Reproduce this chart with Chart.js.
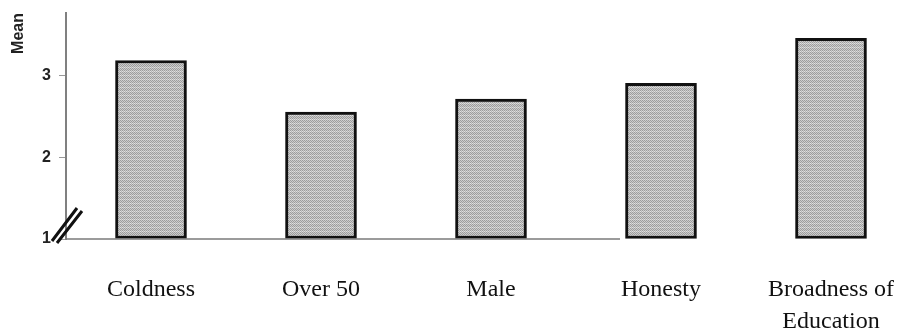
<!DOCTYPE html>
<html>
<head>
<meta charset="utf-8">
<script src="https://cdn.jsdelivr.net/npm/chart.js@4.4.1/dist/chart.umd.min.js"></script>
<style>
  html, body { margin: 0; padding: 0; background: #fff; overflow: hidden; }
  #wrap { width: 916px; height: 331px; }
  #meanChart { width: 916px; height: 331px; display: block; }
</style>
</head>
<body>
<div id="wrap"><canvas id="meanChart" width="916" height="331"></canvas></div>
<script>
// --- datos ---
const categories = ['Coldness', 'Over 50', 'Male', 'Honesty', ['Broadness of', 'Education']];
const means = [3.18, 2.55, 2.71, 2.90, 3.45];
const yTicks = [1, 2, 3];
const yMin = 1;
const yMax = 3.76;

// trama gris punteada como la del original escaneado
function makePattern() {
    const c = document.createElement('canvas');
    c.width = 4; c.height = 4;
    const p = c.getContext('2d');
    for (let y = 0; y < 4; y++) {
        for (let x = 0; x < 4; x++) {
            const dark = (x + y) % 2 === 0;
            let col = dark ? '#9c9c9c' : '#cdcdcd';
            if (y === 3) col = dark ? '#b4b4b4' : '#e0e0e0';
            p.fillStyle = col;
            p.fillRect(x, y, 1, 1);
        }
    }
    return p.createPattern(c, 'repeat');
}

// línea base recortada y marcas de corte del eje
const axisExtras = {
    id: 'axisExtras',
    afterDraw(chart) {
        const ctx = chart.ctx;
        const area = chart.chartArea;
        const x = chart.scales.x;
        ctx.save();
        ctx.strokeStyle = '#7a7a7a';
        ctx.lineWidth = 1.5;
        ctx.beginPath();
        ctx.moveTo(area.left, area.bottom);
        ctx.lineTo(x.getPixelForValue(3) - 41, area.bottom);
        ctx.stroke();

        ctx.strokeStyle = '#111';
        ctx.lineWidth = 3;
        ctx.beginPath();
        ctx.moveTo(area.left - 14, area.bottom + 2);
        ctx.lineTo(area.left + 11, area.bottom - 31);
        ctx.moveTo(area.left - 9, area.bottom + 4);
        ctx.lineTo(area.left + 16, area.bottom - 28);
        ctx.stroke();
        ctx.restore();
    }
};

const ctx = document.getElementById('meanChart').getContext('2d');

new Chart(ctx, {
    type: 'bar',
    data: {
        labels: categories,
        datasets: [{
            data: means,
            base: yMin,
            backgroundColor: makePattern(),
            borderColor: '#111',
            borderWidth: 3,
            borderSkipped: false,
            barThickness: 71
        }]
    },
    options: {
        responsive: false,
        devicePixelRatio: 1,
        animation: false,
        layout: { padding: { top: 13, left: 0, right: 0, bottom: 0 } },
        plugins: { legend: { display: false }, tooltip: { enabled: false } },
        scales: {
            x: {
                offset: true,
                border: { display: false },
                grid: { display: false, drawTicks: false },
                ticks: {
                    color: '#111',
                    padding: 35,
                    maxRotation: 0,
                    autoSkip: false,
                    font: { family: "'Liberation Serif', 'Times New Roman', serif", size: 24, lineHeight: 1.33 }
                },
                afterFit(scale) {
                    scale.height = 92;
                    scale.paddingLeft = 0;
                    scale.paddingRight = 0;
                }
            },
            y: {
                min: yMin,
                max: yMax,
                border: { display: true, color: '#808080', width: 2 },
                grid: { drawOnChartArea: false, drawTicks: true, tickLength: 7, color: '#999' },
                ticks: {
                    color: '#222',
                    padding: 8,
                    font: { family: "'Liberation Sans', Arial, sans-serif", size: 16, weight: 'bold' }
                },
                afterBuildTicks(scale) { scale.ticks = yTicks.map(v => ({ value: v })); },
                title: {
                    display: true,
                    text: 'Mean',
                    align: 'end',
                    color: '#222',
                    padding: { top: 9, bottom: 0 },
                    font: { family: "'Liberation Sans', Arial, sans-serif", size: 16, weight: 'bold' }
                },
                afterFit(scale) {
                    scale.width = 66;
                    scale.paddingTop = 0;
                    scale.paddingBottom = 0;
                }
            }
        }
    },
    plugins: [axisExtras]
});
</script>
</body>
</html>
